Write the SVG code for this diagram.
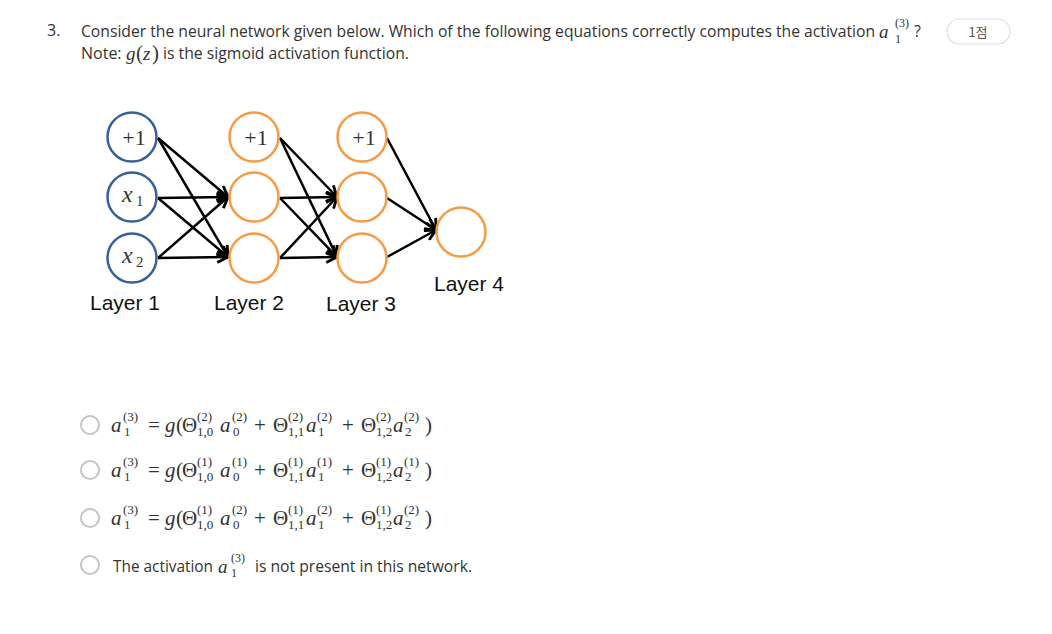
<svg xmlns="http://www.w3.org/2000/svg" width="1052" height="634" viewBox="0 0 1052 634">
<style>
.bg{fill:#fff}
.q{font-family:"Open Sans","Liberation Sans",sans-serif;font-size:16px;fill:#333}
.m{font-family:"Liberation Serif","DejaVu Serif",serif;font-size:21px;fill:#333}
.mi{font-family:"Liberation Serif","DejaVu Serif",serif;font-size:21px;font-style:italic;fill:#333}
.s{font-family:"Liberation Serif","DejaVu Serif",serif;font-size:13px;fill:#333}
.tm{font-family:"Liberation Serif","DejaVu Serif",serif;font-size:19px;font-style:italic;fill:#333}
.ts{font-family:"Liberation Serif","DejaVu Serif",serif;font-size:12px;fill:#333}
.lay{font-family:"Liberation Sans","Open Sans",sans-serif;font-size:21px;fill:#111}
.blue{fill:#fff;stroke:#36609b;stroke-width:2.5}
.org{fill:#fff;stroke:#f79a43;stroke-width:2.5}
.nt{font-family:"Liberation Serif","DejaVu Serif",serif;font-size:22px;fill:#333;text-anchor:middle}
.ntx{font-family:"Liberation Serif","DejaVu Serif",serif;font-size:24px;font-style:italic;fill:#333}
.nts{font-family:"Liberation Serif","DejaVu Serif",serif;font-size:15px;fill:#333}
.e{stroke:#000;stroke-width:2.5;fill:none;marker-end:url(#ah)}
.radio{fill:#fff;stroke:#c4c4c4;stroke-width:2}
</style>
<defs>
<marker id="ah" viewBox="0 0 12 12" refX="11" refY="6" markerWidth="13" markerHeight="13" markerUnits="userSpaceOnUse" orient="auto">
<path d="M1,1 L11,6 L1,11" fill="none" stroke="#000" stroke-width="2.6"/>
</marker>
</defs>
<rect class="bg" width="1052" height="634"/>

<g id="question">
<text class="q" x="47" y="36">3.</text>
<text class="q" x="81" y="37" textLength="794" lengthAdjust="spacingAndGlyphs">Consider the neural network given below. Which of the following equations correctly computes the activation</text>
<text class="tm" x="879" y="38">a</text>
<text class="ts" x="895" y="27">(3)</text>
<text class="ts" x="895" y="43">1</text>
<text class="q" x="914" y="37">?</text>
<text class="q" x="81" y="59">Note:</text>
<text class="tm" x="126" y="60">g</text>
<text class="m" x="136" y="60" font-size="19">(</text>
<text class="tm" x="143" y="60">z</text>
<text class="m" x="152" y="60" font-size="19">)</text>
<text class="q" x="163" y="59" textLength="246" lengthAdjust="spacingAndGlyphs">is the sigmoid activation function.</text>
</g>

<g id="badge">
<rect x="947" y="19" width="63" height="25" rx="12.5" fill="#fff" stroke="#dedede" stroke-width="1.2"/>
<text x="978" y="37" text-anchor="middle" font-family="'Noto Sans CJK KR','Noto Sans',sans-serif" font-size="13" fill="#555">1점</text>
</g>

<g id="connectors">
<line class="e" x1="158" y1="138" x2="228" y2="197"/>
<line class="e" x1="158" y1="138" x2="228" y2="257"/>
<line class="e" x1="158" y1="198" x2="228" y2="197"/>
<line class="e" x1="158" y1="198" x2="228" y2="257"/>
<line class="e" x1="158" y1="258" x2="228" y2="197"/>
<line class="e" x1="158" y1="258" x2="228" y2="257"/>
<line class="e" x1="280" y1="138" x2="337" y2="197"/>
<line class="e" x1="280" y1="138" x2="337" y2="257"/>
<line class="e" x1="280" y1="198" x2="337" y2="197"/>
<line class="e" x1="280" y1="198" x2="337" y2="257"/>
<line class="e" x1="280" y1="258" x2="337" y2="197"/>
<line class="e" x1="280" y1="258" x2="337" y2="257"/>
<line class="e" x1="387" y1="138" x2="436" y2="230"/>
<line class="e" x1="387" y1="198" x2="436" y2="230"/>
<line class="e" x1="387" y1="257" x2="436" y2="230"/>
</g>

<g id="n-l1-bias"><circle class="blue" cx="132" cy="137" r="24.5"/><text class="nt" x="134" y="145">+1</text></g>
<g id="n-l1-x1"><circle class="blue" cx="132" cy="197" r="24.5"/><text class="ntx" x="122" y="202">x</text><text class="nts" x="136" y="206">1</text></g>
<g id="n-l1-x2"><circle class="blue" cx="132" cy="258" r="24.5"/><text class="ntx" x="122" y="263">x</text><text class="nts" x="136" y="267">2</text></g>
<g id="n-l2-bias"><circle class="org" cx="254" cy="137" r="24.5"/><text class="nt" x="256" y="145">+1</text></g>
<g id="n-l2-1"><circle class="org" cx="254" cy="197" r="24.5"/></g>
<g id="n-l2-2"><circle class="org" cx="254" cy="258" r="24.5"/></g>
<g id="n-l3-bias"><circle class="org" cx="362" cy="137" r="24.5"/><text class="nt" x="364" y="145">+1</text></g>
<g id="n-l3-1"><circle class="org" cx="362" cy="197" r="24.5"/></g>
<g id="n-l3-2"><circle class="org" cx="362" cy="258" r="24.5"/></g>
<g id="n-l4"><circle class="org" cx="461" cy="232" r="24.5"/></g>

<g id="layer-labels">
<text class="lay" x="90" y="310" textLength="70" lengthAdjust="spacingAndGlyphs">Layer 1</text>
<text class="lay" x="214" y="310" textLength="70" lengthAdjust="spacingAndGlyphs">Layer 2</text>
<text class="lay" x="326" y="311" textLength="70" lengthAdjust="spacingAndGlyphs">Layer 3</text>
<text class="lay" x="434" y="291" textLength="70" lengthAdjust="spacingAndGlyphs">Layer 4</text>
</g>

<g id="option1">
<circle class="radio" cx="90" cy="425" r="9"/>
<text class="mi" x="111" y="432">a</text><text class="s" x="123" y="421">(3)</text><text class="s" x="124" y="436">1</text>
<text class="m" x="148" y="432">=</text>
<text class="mi" x="165" y="432">g</text><text class="m" x="176" y="432">(</text>
<text class="m" x="182" y="432">Θ</text><text class="s" x="197" y="421">(2)</text><text class="s" x="197" y="436">1,0</text>
<text class="mi" x="220" y="432">a</text><text class="s" x="232" y="421">(2)</text><text class="s" x="233" y="436">0</text>
<text class="m" x="254" y="432">+</text>
<text class="m" x="273" y="432">Θ</text><text class="s" x="288" y="421">(2)</text><text class="s" x="288" y="436">1,1</text>
<text class="mi" x="306" y="432">a</text><text class="s" x="317" y="421">(2)</text><text class="s" x="318" y="436">1</text>
<text class="m" x="342" y="432">+</text>
<text class="m" x="361" y="432">Θ</text><text class="s" x="376" y="421">(2)</text><text class="s" x="376" y="436">1,2</text>
<text class="mi" x="393" y="432">a</text><text class="s" x="404" y="421">(2)</text><text class="s" x="405" y="436">2</text>
<text class="m" x="425" y="432">)</text>
</g>

<g id="option2">
<circle class="radio" cx="90" cy="470" r="9"/>
<text class="mi" x="111" y="477">a</text><text class="s" x="123" y="466">(3)</text><text class="s" x="124" y="481">1</text>
<text class="m" x="148" y="477">=</text>
<text class="mi" x="165" y="477">g</text><text class="m" x="176" y="477">(</text>
<text class="m" x="182" y="477">Θ</text><text class="s" x="197" y="466">(1)</text><text class="s" x="197" y="481">1,0</text>
<text class="mi" x="220" y="477">a</text><text class="s" x="232" y="466">(1)</text><text class="s" x="233" y="481">0</text>
<text class="m" x="254" y="477">+</text>
<text class="m" x="273" y="477">Θ</text><text class="s" x="288" y="466">(1)</text><text class="s" x="288" y="481">1,1</text>
<text class="mi" x="306" y="477">a</text><text class="s" x="317" y="466">(1)</text><text class="s" x="318" y="481">1</text>
<text class="m" x="342" y="477">+</text>
<text class="m" x="361" y="477">Θ</text><text class="s" x="376" y="466">(1)</text><text class="s" x="376" y="481">1,2</text>
<text class="mi" x="393" y="477">a</text><text class="s" x="404" y="466">(1)</text><text class="s" x="405" y="481">2</text>
<text class="m" x="425" y="477">)</text>
</g>

<g id="option3">
<circle class="radio" cx="90" cy="518" r="9"/>
<text class="mi" x="111" y="525">a</text><text class="s" x="123" y="514">(3)</text><text class="s" x="124" y="529">1</text>
<text class="m" x="148" y="525">=</text>
<text class="mi" x="165" y="525">g</text><text class="m" x="176" y="525">(</text>
<text class="m" x="182" y="525">Θ</text><text class="s" x="197" y="514">(1)</text><text class="s" x="197" y="529">1,0</text>
<text class="mi" x="220" y="525">a</text><text class="s" x="232" y="514">(2)</text><text class="s" x="233" y="529">0</text>
<text class="m" x="254" y="525">+</text>
<text class="m" x="273" y="525">Θ</text><text class="s" x="288" y="514">(1)</text><text class="s" x="288" y="529">1,1</text>
<text class="mi" x="306" y="525">a</text><text class="s" x="317" y="514">(2)</text><text class="s" x="318" y="529">1</text>
<text class="m" x="342" y="525">+</text>
<text class="m" x="361" y="525">Θ</text><text class="s" x="376" y="514">(1)</text><text class="s" x="376" y="529">1,2</text>
<text class="mi" x="393" y="525">a</text><text class="s" x="404" y="514">(2)</text><text class="s" x="405" y="529">2</text>
<text class="m" x="425" y="525">)</text>
</g>

<g id="option4">
<circle class="radio" cx="90" cy="565" r="9"/>
<text class="q" x="113" y="572" textLength="100" lengthAdjust="spacingAndGlyphs">The activation</text>
<text class="tm" x="218" y="573">a</text><text class="ts" x="231" y="562">(3)</text><text class="ts" x="231" y="577">1</text>
<text class="q" x="255" y="572" textLength="217" lengthAdjust="spacingAndGlyphs">is not present in this network.</text>
</g>
</svg>
